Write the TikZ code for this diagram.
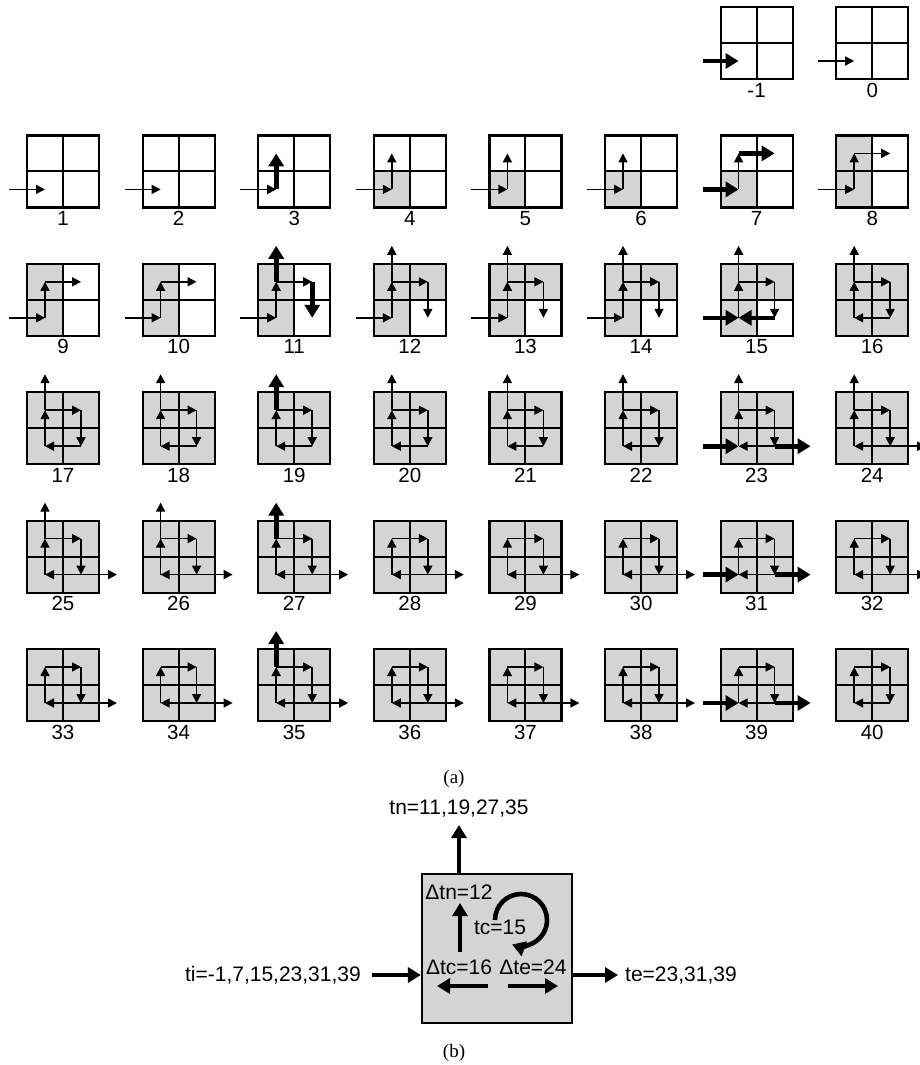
\documentclass[tikz,border=0pt]{standalone}
\usepackage{fontspec}
\setmainfont{Liberation Sans}
\newfontfamily\capfont{Liberation Serif}
\usetikzlibrary{arrows.meta}
\definecolor{cellgray}{RGB}{212,212,212}
\tikzset{
  slim/.style={line width=1.6pt,-{Triangle[length=9pt,width=9pt]}},
  heavy/.style={line width=4.6pt,-{Triangle[length=13pt,width=15pt]}},
  rim/.style={line width=2.2pt},
  cross/.style={line width=2pt},
  num/.style={inner sep=0pt,font=\fontsize{20.5}{24}\selectfont},
  txt/.style={inner sep=0pt,font=\fontsize{21}{24}\selectfont},
}
%Shaded cells
\newcommand{\gbl}{\fill[cellgray] (0,36) rectangle ++(36,36);}
\newcommand{\gtl}{\fill[cellgray] (0,0) rectangle ++(36,36);}
\newcommand{\gtr}{\fill[cellgray] (36,0) rectangle ++(36,36);}
\newcommand{\gall}{\fill[cellgray] (0,0) rectangle (72,72);}
%Moves between cell centres
\newcommand{\inarr}[1]{\draw[#1] (-18,54) -- (18,54);}
\newcommand{\uparr}[1]{\draw[#1] (18,54) -- (18,18);}
\newcommand{\rtarr}[1]{\draw[#1] (18,18) -- (54,18);}
\newcommand{\dnarr}[1]{\draw[#1] (54,18) -- (54,54);}
\newcommand{\lfarr}[1]{\draw[#1] (54,54) -- (18,54);}
\newcommand{\noarr}[1]{\draw[#1] (18,18) -- (18,-18);}
\newcommand{\eaarr}[1]{\draw[#1] (54,54) -- (90,54);}
\newcommand{\ring}{\uparr{slim}\rtarr{slim}\dnarr{slim}\lfarr{slim}}
%One 2x2 tile: column, row, label, shading, moves
\newcommand{\tile}[5]{\begin{scope}[shift={({27+115.6*(#1-1)},{7+128.4*#2})}]
  #4
  \draw[cross] (36,0) -- (36,72) (0,36) -- (72,36);
  \draw[rim] (0,0) rectangle (72,72);
  #5
  \node[num] at (36,83) {#3};
\end{scope}}

\begin{document}
\begin{tikzpicture}[x=1pt,y=-1pt]
\useasboundingbox (0,0) rectangle (919,1065);
%Top row
	\tile{7}{0}{-1}{}{\inarr{heavy}}
	\tile{8}{0}{0}{}{\inarr{slim}}
%First row
	\tile{1}{1}{1}{}{\inarr{slim}}
	\tile{2}{1}{2}{}{\inarr{slim}}
	\tile{3}{1}{3}{}{\inarr{slim}\uparr{heavy}}
	\tile{4}{1}{4}{\gbl}{\inarr{slim}\uparr{slim}}
	\tile{5}{1}{5}{\gbl}{\inarr{slim}\uparr{slim}}
	\tile{6}{1}{6}{\gbl}{\inarr{slim}\uparr{slim}}
	\tile{7}{1}{7}{\gbl}{\uparr{slim}\inarr{heavy}\rtarr{heavy}}
	\tile{8}{1}{8}{\gbl\gtl}{\inarr{slim}\uparr{slim}\rtarr{slim}}
%Second row
	\tile{1}{2}{9}{\gbl\gtl}{\inarr{slim}\uparr{slim}\rtarr{slim}}
	\tile{2}{2}{10}{\gbl\gtl}{\inarr{slim}\uparr{slim}\rtarr{slim}}
	\tile{3}{2}{11}{\gbl\gtl}{\inarr{slim}\uparr{slim}\rtarr{slim}\noarr{heavy}\dnarr{heavy}}
	\tile{4}{2}{12}{\gbl\gtl\gtr}{\inarr{slim}\uparr{slim}\rtarr{slim}\noarr{slim}\dnarr{slim}}
	\tile{5}{2}{13}{\gbl\gtl\gtr}{\inarr{slim}\uparr{slim}\rtarr{slim}\noarr{slim}\dnarr{slim}}
	\tile{6}{2}{14}{\gbl\gtl\gtr}{\inarr{slim}\uparr{slim}\rtarr{slim}\noarr{slim}\dnarr{slim}}
	\tile{7}{2}{15}{\gbl\gtl\gtr}{\uparr{slim}\rtarr{slim}\noarr{slim}\dnarr{slim}\inarr{heavy}\lfarr{heavy}}
	\tile{8}{2}{16}{\gall}{\ring\noarr{slim}}
%Third row
	\tile{1}{3}{17}{\gall}{\ring\noarr{slim}}
	\tile{2}{3}{18}{\gall}{\ring\noarr{slim}}
	\tile{3}{3}{19}{\gall}{\ring\noarr{heavy}}
	\tile{4}{3}{20}{\gall}{\ring\noarr{slim}}
	\tile{5}{3}{21}{\gall}{\ring\noarr{slim}}
	\tile{6}{3}{22}{\gall}{\ring\noarr{slim}}
	\tile{7}{3}{23}{\gall}{\ring\noarr{slim}\inarr{heavy}\eaarr{heavy}}
	\tile{8}{3}{24}{\gall}{\ring\noarr{slim}\eaarr{slim}}
%Fourth row
	\tile{1}{4}{25}{\gall}{\ring\noarr{slim}\eaarr{slim}}
	\tile{2}{4}{26}{\gall}{\ring\noarr{slim}\eaarr{slim}}
	\tile{3}{4}{27}{\gall}{\ring\eaarr{slim}\noarr{heavy}}
	\tile{4}{4}{28}{\gall}{\ring\eaarr{slim}}
	\tile{5}{4}{29}{\gall}{\ring\eaarr{slim}}
	\tile{6}{4}{30}{\gall}{\ring\eaarr{slim}}
	\tile{7}{4}{31}{\gall}{\ring\inarr{heavy}\eaarr{heavy}}
	\tile{8}{4}{32}{\gall}{\ring\eaarr{slim}}
%Fifth row
	\tile{1}{5}{33}{\gall}{\ring\eaarr{slim}}
	\tile{2}{5}{34}{\gall}{\ring\eaarr{slim}}
	\tile{3}{5}{35}{\gall}{\ring\eaarr{slim}\noarr{heavy}}
	\tile{4}{5}{36}{\gall}{\ring\eaarr{slim}}
	\tile{5}{5}{37}{\gall}{\ring\eaarr{slim}}
	\tile{6}{5}{38}{\gall}{\ring\eaarr{slim}}
	\tile{7}{5}{39}{\gall}{\ring\inarr{heavy}\eaarr{heavy}}
	\tile{8}{5}{40}{\gall}{\ring}
	\node[txt,font=\capfont\fontsize{19}{22}\selectfont] (capa) at (454,779) {(a)};
%The block
	\node[rim,draw,fill=cellgray,minimum width=150pt,minimum height=149pt,inner sep=0pt] (blk) at (497,948.5) {};
	\node[txt] (tn) at (459,809) {tn=11,19,27,35};
	\coordinate (tntip) at (459,825);
	\draw[heavy] (blk.north -| tntip) -- (tntip);
	\node[txt,anchor=east] (ti) at (361,975) {ti=-1,7,15,23,31,39};
	\draw[heavy] ([xshift=11pt]ti.east) -- (blk.west |- ti.east);
	\node[txt,anchor=west] (te) at (625,975) {te=23,31,39};
	\draw[heavy] (blk.east |- te.west) -- ([xshift=-7pt]te.west);
%Inside the block
	\node[txt] (dtn) at (459,892) {Δtn=12};
	\node[txt] (tc) at (500,927) {tc=15};
	\node[txt] (dtc) at (459,967) {Δtc=16};
	\node[txt] (dte) at (533,967) {Δte=24};
	\coordinate (upbot) at (460,952);
	\coordinate (uptop) at (460,903);
	\draw[heavy] (upbot) -- (uptop);
	\coordinate (lfbeg) at (488,986);
	\coordinate (lfend) at (437,986);
	\draw[heavy] (lfbeg) -- (lfend);
	\coordinate (rtbeg) at (508,986);
	\coordinate (rtend) at (558,986);
	\draw[heavy] (rtbeg) -- (rtend);
	\draw[heavy] (495,920) arc[start angle=180,end angle=470,radius=26];
	\node[txt,font=\capfont\fontsize{19}{22}\selectfont] (capb) at (454,1053) {(b)};
\end{tikzpicture}
\end{document}
